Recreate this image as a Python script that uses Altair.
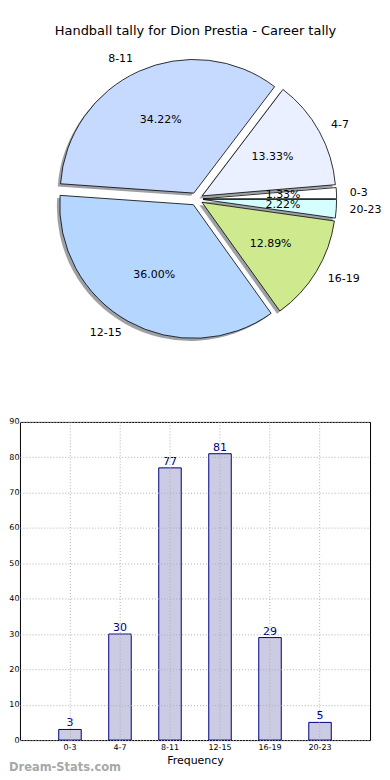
import altair as alt
import pandas as pd

categories = ["0-3", "4-7", "8-11", "12-15", "16-19", "20-23"]
counts = [3, 30, 77, 81, 29, 5]
slice_colors = ["#ffffff", "#eaf0ff", "#c6d9ff", "#b5d6ff", "#cfe98e", "#d5ffff"]
title_text = ["Handball tally for Dion Prestia - Career tally"]
y_ticks = [0, 10, 20, 30, 40, 50, 60, 70, 80, 90]
watermark = ["Dream-Stats.com"]

df = pd.DataFrame({"cat": categories, "n": counts, "idx": list(range(len(categories)))})

FONT = "DejaVu Sans"
CX, CY, R, E = 177, 190.5, 134, 6.5
SHX, SHY = -2.8, 2.6

base = (
    alt.Chart(df)
    .transform_joinaggregate(total="sum(n)")
    .transform_window(cum="sum(n)", sort=[alt.SortField("idx")], frame=[None, 0])
    .transform_calculate(m0="2*PI*(datum.cum - datum.n)/datum.total")
    .transform_calculate(m1="2*PI*datum.cum/datum.total")
    .transform_calculate(mm="(datum.m0 + datum.m1)/2")
    .transform_calculate(t0="5*PI/2 - datum.m0")
    .transform_calculate(t1="5*PI/2 - datum.m1")
    .transform_calculate(pct="format(100*datum.n/datum.total, '.2f') + '%'")
    .transform_calculate(cx=f"{CX} + {E}*cos(datum.mm)")
    .transform_calculate(cy=f"{CY} - {E}*sin(datum.mm)")
    .transform_calculate(sx=f"datum.cx + {SHX}")
    .transform_calculate(sy=f"datum.cy + {SHY}")
    .transform_calculate(lx=f"datum.cx + {1.1 * R}*cos(datum.mm)")
    .transform_calculate(ly=f"datum.cy - {1.1 * R}*sin(datum.mm)")
    .transform_calculate(px=f"datum.cx + {0.6 * R}*cos(datum.mm)")
    .transform_calculate(py=f"datum.cy - {0.6 * R}*sin(datum.mm)")
    .transform_calculate(right="cos(datum.mm) >= 0")
)

theta = alt.Theta("t0:Q", scale=None, stack=None)
theta2 = alt.Theta2("t1:Q")

shadows = base.mark_arc(radius=R, color="#9da1a6", strokeWidth=0).encode(
    theta=theta, theta2=theta2,
    x=alt.X("sx:Q", scale=None), y=alt.Y("sy:Q", scale=None),
)
slices = base.mark_arc(radius=R, stroke="black", strokeWidth=0.8).encode(
    theta=theta, theta2=theta2,
    x=alt.X("cx:Q", scale=None), y=alt.Y("cy:Q", scale=None),
    color=alt.Color("cat:N", scale=alt.Scale(domain=categories, range=slice_colors), legend=None),
)
lbl_r = base.transform_filter("datum.right").mark_text(
    align="left", baseline="middle", fontSize=11, font=FONT, color="black"
).encode(x=alt.X("lx:Q", scale=None), y=alt.Y("ly:Q", scale=None), text="cat:N")
lbl_l = base.transform_filter("!datum.right").mark_text(
    align="right", baseline="middle", fontSize=11, font=FONT, color="black"
).encode(x=alt.X("lx:Q", scale=None), y=alt.Y("ly:Q", scale=None), text="cat:N")
pcts = base.mark_text(
    align="center", baseline="middle", fontSize=11, font=FONT, color="black"
).encode(x=alt.X("px:Q", scale=None), y=alt.Y("py:Q", scale=None), text="pct:N")

title = alt.Chart(pd.DataFrame({"t": title_text})).mark_text(
    align="center", baseline="middle", fontSize=13, font=FONT, color="black"
).encode(text="t:N", x=alt.value(176), y=alt.value(22))

pie = alt.layer(title, shadows, slices, lbl_l, lbl_r, pcts).properties(
    width=350, height=400, view=alt.ViewBackground(stroke=None)
)

xax = alt.Axis(
    title="Frequency", labelAngle=0, bandPosition=0.5, grid=True,
    gridDash=[1, 2], gridColor="#b0b0b0", gridWidth=1, ticks=False, domain=False,
    labelFontSize=8, labelFont=FONT, titleFont=FONT, titleFontSize=11,
    titleFontWeight="normal", labelPadding=3, titlePadding=3, zindex=1,
    labelColor="black", titleColor="black", labelOverlap=False,
)
yax = alt.Axis(
    values=y_ticks, title=None, grid=True, gridDash=[1, 2], gridColor="#b0b0b0",
    gridWidth=1, ticks=False, domain=False, labelFontSize=8, labelFont=FONT,
    labelPadding=1, zindex=1, labelColor="black", labelOverlap=False,
)
xenc = alt.X("cat:N", sort=categories,
             scale=alt.Scale(paddingInner=0.55, paddingOuter=0.775), axis=xax)
yenc = alt.Y("n:Q", scale=alt.Scale(domain=[0, 90]), axis=yax)

bars = alt.Chart(df).mark_bar(fill="#cbcbe3", stroke="#000080", strokeWidth=1).encode(x=xenc, y=yenc)
vals = alt.Chart(df).mark_text(
    color="#000080", fontSize=11, font=FONT, baseline="bottom", dy=-1
).encode(x=xenc, y=yenc, text="n:Q")
wm = alt.Chart(pd.DataFrame({"w": watermark})).mark_text(
    align="left", baseline="middle", fontSize=11.5, fontWeight="bold", font=FONT, color="#a8a8a8"
).encode(text="w:N", x=alt.value(-11), y=alt.value(347))

bar = alt.layer(bars, vals, wm).properties(
    width=351, height=319, view=alt.ViewBackground(stroke="black", strokeWidth=1)
)

chart = alt.vconcat(pie, bar, spacing=9).properties(padding=0)
chart.save("out.html", embed_options={"renderer": "svg", "actions": False})
